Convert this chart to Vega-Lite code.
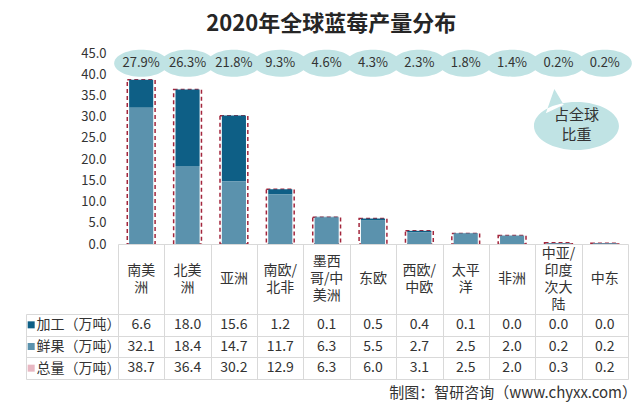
{
  "$schema": "https://vega.github.io/schema/vega-lite/v6.json",
  "background": "white",
  "padding": {"left": 25, "top": 13, "right": 5, "bottom": 5},
  "title": {"text": "2020年全球蓝莓产量分布", "fontSize": 22, "font": "Noto Sans CJK SC", "fontWeight": "bold", "color": "#262626", "anchor": "middle", "offset": 11},
  "config": {
    "font": "Noto Sans CJK SC",
    "view": {"stroke": null},
    "axis": {"labelFont": "Noto Sans CJK SC"},
    "axisQuantitative": {"labelOverlap": false, "tickCount": 10}
  },
  "spacing": 0,
  "bounds": "flush",
  "datasets": {
    "d": [
      {"region": "南美洲", "加工": 6.6, "鲜果": 32.1, "总量": 38.7, "share": 0.279},
      {"region": "北美洲", "加工": 18.0, "鲜果": 18.4, "总量": 36.4, "share": 0.263},
      {"region": "亚洲", "加工": 15.6, "鲜果": 14.7, "总量": 30.2, "share": 0.218},
      {"region": "南欧/北非", "加工": 1.2, "鲜果": 11.7, "总量": 12.9, "share": 0.093},
      {"region": "墨西哥/中美洲", "加工": 0.1, "鲜果": 6.3, "总量": 6.3, "share": 0.046},
      {"region": "东欧", "加工": 0.5, "鲜果": 5.5, "总量": 6.0, "share": 0.043},
      {"region": "西欧/中欧", "加工": 0.4, "鲜果": 2.7, "总量": 3.1, "share": 0.023},
      {"region": "太平洋", "加工": 0.1, "鲜果": 2.5, "总量": 2.5, "share": 0.018},
      {"region": "非洲", "加工": 0.0, "鲜果": 2.0, "总量": 2.0, "share": 0.014},
      {"region": "中亚/印度次大陆", "加工": 0.0, "鲜果": 0.2, "总量": 0.3, "share": 0.002},
      {"region": "中东", "加工": 0.0, "鲜果": 0.2, "总量": 0.2, "share": 0.002}
    ]
  },
  "vconcat": [
    {
      "width": 510,
      "height": 191,
      "data": {"name": "d"},
      "encoding": {
        "x": {
          "field": "region", "type": "nominal", "sort": null,
          "scale": {"paddingInner": 0, "paddingOuter": 0},
          "axis": null
        }
      },
      "layer": [
        {
          "mark": {"type": "point", "shape": "M-1,0A1,0.5,0,1,0,1,0A1,0.5,0,1,0,-1,0Z", "filled": true, "size": 2916, "color": "#c0e3e4", "opacity": 1},
          "encoding": {
            "y": {"datum": 42.6, "type": "quantitative", "scale": {"domain": [0, 45]},
              "axis": {"title": null, "values": [0, 5, 10, 15, 20, 25, 30, 35, 40, 45], "tickCount": 10, "format": ".1f", "labelFontSize": 13, "labelColor": "#333333", "ticks": false, "domain": false, "grid": false, "labelPadding": 12, "labelOverlap": false}}
          }
        },
        {
          "mark": {"type": "text", "fontSize": 13, "color": "#333333"},
          "encoding": {
            "y": {"datum": 42.6, "type": "quantitative",
              "axis": {"title": null, "values": [0, 5, 10, 15, 20, 25, 30, 35, 40, 45], "tickCount": 10, "format": ".1f", "labelFontSize": 13, "labelColor": "#333333", "ticks": false, "domain": false, "grid": false, "labelPadding": 12, "labelOverlap": false}},
            "text": {"field": "share", "type": "quantitative", "format": ".1%"}
          }
        },
        {
          "data": {"values": [{}]},
          "mark": {"type": "point", "shape": "M-1,0A1,0.565,0,1,0,1,0A1,0.565,0,1,0,-1,0Z M-0.72,-0.3L-0.52,-0.87L-0.3,-0.5Z", "filled": true, "size": 7225, "color": "#c0e3e4", "opacity": 1, "xOffset": 18},
          "encoding": {
            "x": {"datum": "中亚/印度次大陆"},
            "y": {"datum": 27.8, "type": "quantitative",
              "axis": {"title": null, "values": [0, 5, 10, 15, 20, 25, 30, 35, 40, 45], "tickCount": 10, "format": ".1f", "labelFontSize": 13, "labelColor": "#333333", "ticks": false, "domain": false, "grid": false, "labelPadding": 12, "labelOverlap": false}}
          }
        },
        {
          "data": {"values": [{}]},
          "mark": {"type": "text", "text": "占全球\n比重", "lineBreak": "\n", "lineHeight": 20, "fontSize": 15, "color": "#333333", "dx": 18},
          "encoding": {
            "x": {"datum": "中亚/印度次大陆"},
            "y": {"datum": 30.4, "type": "quantitative",
              "axis": {"title": null, "values": [0, 5, 10, 15, 20, 25, 30, 35, 40, 45], "tickCount": 10, "format": ".1f", "labelFontSize": 13, "labelColor": "#333333", "ticks": false, "domain": false, "grid": false, "labelPadding": 12, "labelOverlap": false}}
          }
        },
        {
          "mark": {"type": "bar", "width": {"band": 0.6}, "fillOpacity": 0, "stroke": "#a3263c", "strokeWidth": 1.5, "strokeDash": [4, 3]},
          "encoding": {
            "y": {"field": "总量", "type": "quantitative", "scale": {"domain": [0, 45]},
              "axis": {"title": null, "values": [0, 5, 10, 15, 20, 25, 30, 35, 40, 45], "tickCount": 10, "format": ".1f", "labelFontSize": 13, "labelColor": "#333333", "ticks": false, "domain": false, "grid": false, "labelPadding": 12, "labelOverlap": false}}
          }
        },
        {
          "transform": [{"fold": ["加工", "鲜果"], "as": ["series", "value"]}],
          "mark": {"type": "bar", "width": {"band": 0.52}},
          "encoding": {
            "y": {"field": "value", "type": "quantitative", "stack": "zero",
              "axis": {"title": null, "values": [0, 5, 10, 15, 20, 25, 30, 35, 40, 45], "tickCount": 10, "format": ".1f", "labelFontSize": 13, "labelColor": "#333333", "ticks": false, "domain": false, "grid": false, "labelPadding": 12, "labelOverlap": false}},
            "color": {"field": "series", "type": "nominal", "scale": {"domain": ["加工", "鲜果", "总量"], "range": ["#0e5f86", "#5b92ad", "#e8b7c2"]}, "legend": null},
            "order": {"field": "series", "sort": "descending"}
          }
        }
      ]
    },
    {
      "width": 510,
      "height": 70,
      "data": {"name": "d"},
      "transform": [{"calculate": "datum.region=='南美洲'?'南美\\n洲':datum.region=='北美洲'?'北美\\n洲':datum.region=='南欧/北非'?'南欧/\\n北非':datum.region=='墨西哥/中美洲'?'墨西\\n哥/中\\n美洲':datum.region=='西欧/中欧'?'西欧/\\n中欧':datum.region=='太平洋'?'太平\\n洋':datum.region=='中亚/印度次大陆'?'中亚/\\n印度\\n次大\\n陆':datum.region", "as": "label"}],
      "encoding": {
        "x": {
          "field": "region", "type": "nominal",
          "sort": ["南美洲", "北美洲", "亚洲", "南欧/北非", "墨西哥/中美洲", "东欧", "西欧/中欧", "太平洋", "非洲", "中亚/印度次大陆", "中东"],
          "scale": {"paddingInner": 0, "paddingOuter": 0, "domain": ["南美洲", "北美洲", "亚洲", "南欧/北非", "墨西哥/中美洲", "东欧", "西欧/中欧", "太平洋", "非洲", "中亚/印度次大陆", "中东"]},
          "axis": {"orient": "top", "title": null, "labels": false, "ticks": false, "domain": true, "domainColor": "#d9d9d9", "grid": true, "tickBand": "extent", "gridColor": "#d9d9d9"}
        },
        "text": {"field": "label", "type": "nominal"}
      },
      "layer": [
        {
          "transform": [{"filter": {"field": "region", "oneOf": ["亚洲", "东欧", "非洲", "中东"]}}],
          "mark": {"type": "text", "fontSize": 14, "color": "#333333", "lineBreak": "\n", "lineHeight": 17, "baseline": "middle"}
        },
        {
          "transform": [{"filter": {"field": "region", "oneOf": ["南美洲", "北美洲", "南欧/北非", "西欧/中欧", "太平洋"]}}],
          "mark": {"type": "text", "fontSize": 14, "color": "#333333", "lineBreak": "\n", "lineHeight": 17, "baseline": "middle", "dy": -8.5}
        },
        {
          "transform": [{"filter": {"field": "region", "equal": "墨西哥/中美洲"}}],
          "mark": {"type": "text", "fontSize": 14, "color": "#333333", "lineBreak": "\n", "lineHeight": 17, "baseline": "middle", "dy": -17}
        },
        {
          "transform": [{"filter": {"field": "region", "equal": "中亚/印度次大陆"}}],
          "mark": {"type": "text", "fontSize": 14, "color": "#333333", "lineBreak": "\n", "lineHeight": 17, "baseline": "middle", "dy": -25.5}
        }
      ]
    },
    {
      "width": 510,
      "height": 65,
      "data": {"name": "d"},
      "transform": [{"fold": ["加工", "鲜果", "总量"], "as": ["series", "value"]}],
      "title": {"text": "制图：智研咨询（www.chyxx.com）", "orient": "bottom", "anchor": "end", "fontSize": 15, "fontWeight": "normal", "color": "#333333", "offset": 6, "dx": 9},
      "encoding": {
        "x": {
          "field": "region", "type": "nominal", "sort": null,
          "scale": {"paddingInner": 0, "paddingOuter": 0},
          "axis": {"orient": "top", "title": null, "labels": false, "ticks": false, "domain": false, "grid": true, "tickBand": "extent", "gridColor": "#d9d9d9"}
        },
        "y": {
          "field": "series", "type": "nominal", "sort": ["加工", "鲜果", "总量"],
          "scale": {"paddingInner": 0, "paddingOuter": 0},
          "axis": {"title": null, "offset": 92, "tickSize": -92, "tickBand": "extent", "tickColor": "#d9d9d9", "domainColor": "#d9d9d9", "grid": true, "gridColor": "#d9d9d9", "labelExpr": "datum.label ? datum.label+'（万吨）' : ''", "labelAlign": "left", "labelPadding": 82, "labelFontSize": 14, "labelColor": "#333333"}
        }
      },
      "layer": [
        {
          "mark": {"type": "text", "fontSize": 14, "color": "#333333"},
          "encoding": {"text": {"field": "value", "type": "quantitative", "format": ".1f"}}
        },
        {
          "transform": [{"filter": {"field": "region", "equal": "南美洲"}}],
          "mark": {"type": "point", "shape": "square", "filled": true, "size": 49, "opacity": 1, "xOffset": -110},
          "encoding": {
            "color": {"field": "series", "type": "nominal", "scale": {"domain": ["加工", "鲜果", "总量"], "range": ["#0e5f86", "#5b92ad", "#e8b7c2"]}, "legend": null}
          }
        }
      ]
    }
  ]
}
